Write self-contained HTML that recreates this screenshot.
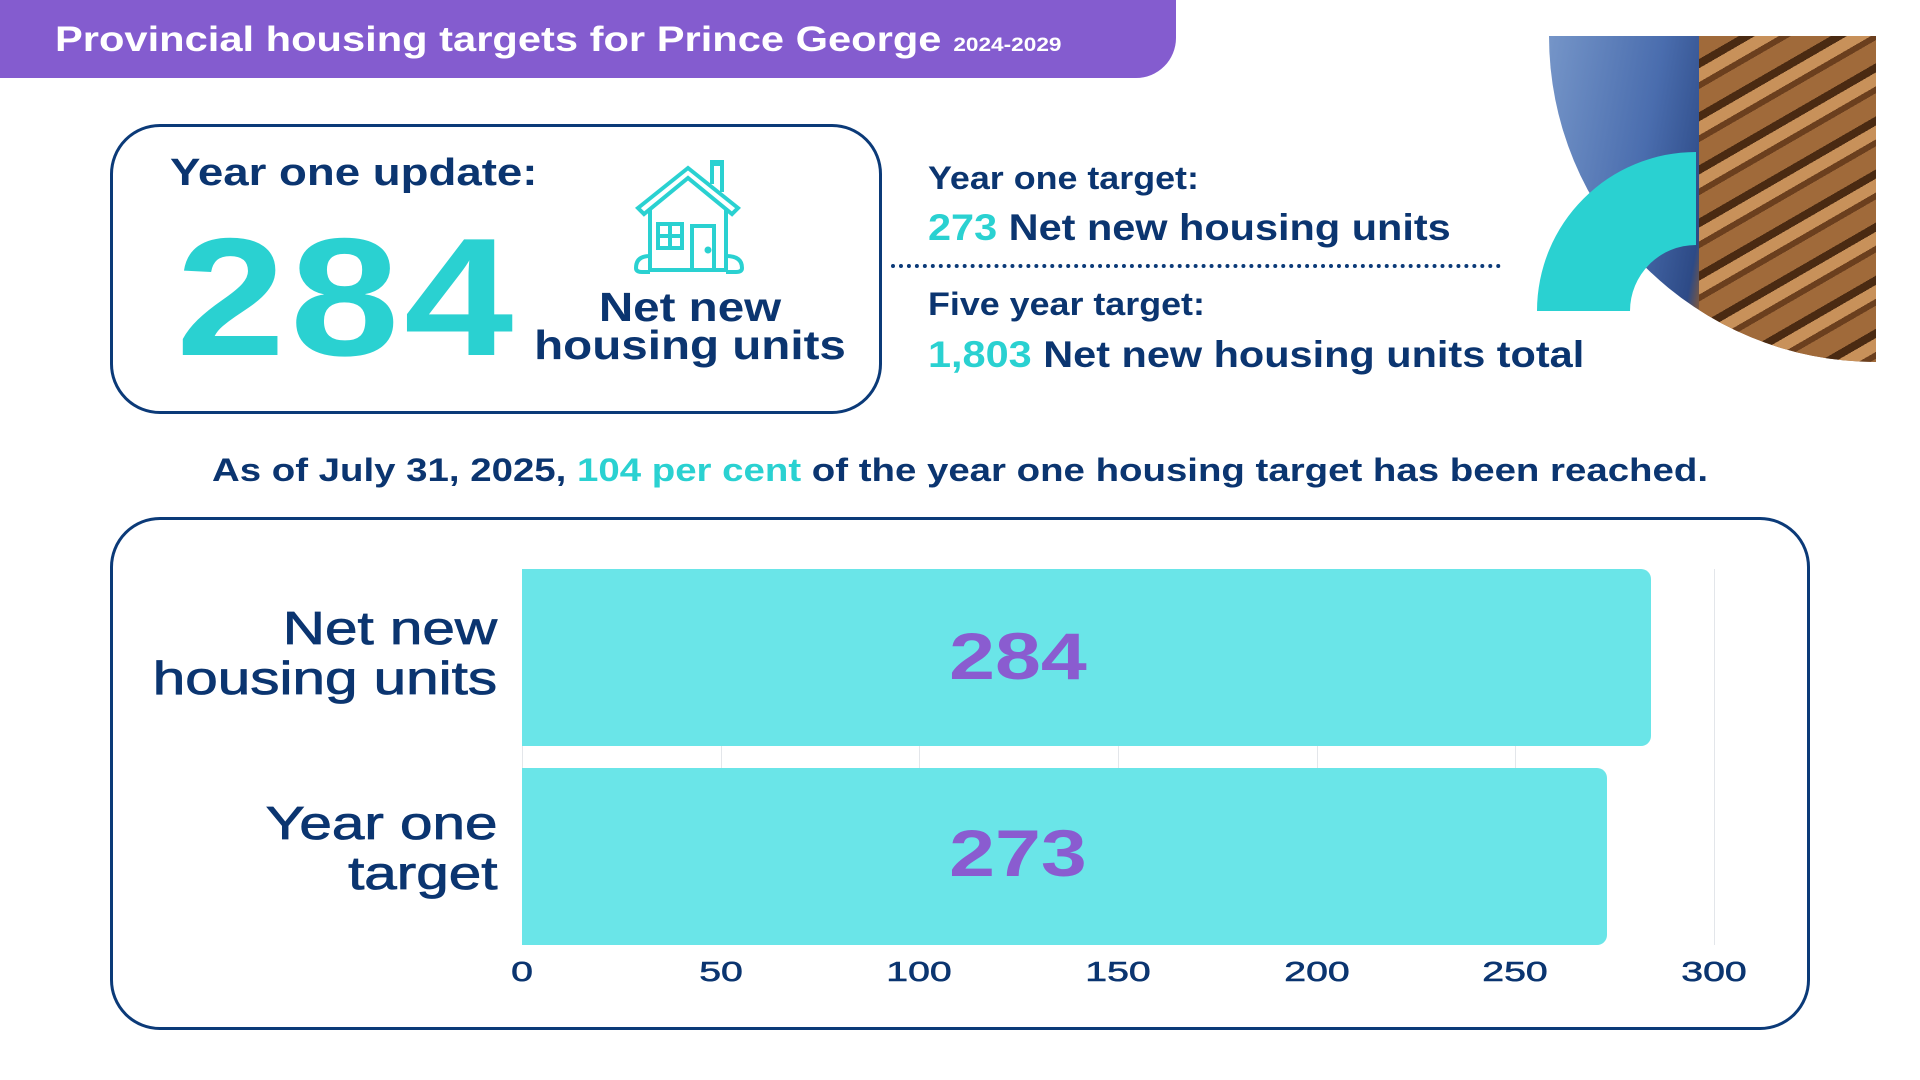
<!DOCTYPE html>
<html><head><meta charset="utf-8"><style>
*{margin:0;padding:0;box-sizing:border-box}
body{width:1920px;height:1080px;background:#fff;position:relative;overflow:hidden;font-family:"Liberation Sans",sans-serif;color:#0b3570}
.abs{position:absolute}
.banner{left:0;top:0;width:1176px;height:78px;background:#845ccf;border-bottom-right-radius:40px}
.title{left:55px;top:20px;color:#fff;font-weight:bold;font-size:35px;white-space:nowrap;transform:scaleX(1.19);transform-origin:left}
.title span{font-size:19px;margin-left:10px}
.box1{left:110px;top:124px;width:772px;height:290px;border:3px solid #0b3a78;border-radius:50px}
.teal{color:#2ad1d1}
.box2{left:110px;top:517px;width:1700px;height:513px;border:3px solid #0b3a78;border-radius:50px}
.bar{background:#6ae5e8;border-radius:0 10px 10px 0;left:522px}
.grid{width:1px;background:#e3e6ea;top:569px;height:376px}
.tick{top:956px;font-size:28px;width:100px;text-align:center;margin-left:-50px;transform:scaleX(1.4);-webkit-text-stroke:0.6px #0b3570}
.ylab{font-size:46px;text-align:right;right:1423px;line-height:50px;white-space:nowrap;transform:scaleX(1.27);transform-origin:right;-webkit-text-stroke:0.8px #0b3570}
.val{color:#8a5cd0;font-size:66px;font-weight:bold;width:200px;text-align:center;left:918px;transform:scaleX(1.25)}
.sx{transform-origin:left;white-space:nowrap}
</style></head><body>
<div class="abs banner"></div>
<div class="abs title">Provincial housing targets for Prince George<span>2024-2029</span></div>

<div class="abs box1"></div>
<div class="abs sx" style="left:170px;top:152px;font-size:38px;font-weight:bold;transform:scaleX(1.2)">Year one update:</div>
<div class="abs teal sx" style="left:176px;top:212px;font-size:168px;font-weight:bold;letter-spacing:4px;line-height:170px;transform:scaleX(1.17)">284</div>
<svg class="abs" style="left:628px;top:158px" width="124" height="118" viewBox="0 0 124 118" fill="none" stroke="#2ad1d1" stroke-width="4">
<path d="M10 50 L60 10 L110 50 L104 56 L60 20 L16 56 Z"/>
<path d="M22 50 V112 H98 V50"/>
<path d="M84 26 V6 H94 V34"/><path d="M82 4 H96"/>
<rect x="30" y="66" width="24" height="24"/><path d="M42 66V90M30 78H54"/>
<rect x="64" y="68" width="22" height="44"/><circle cx="80" cy="92" r="1.5" fill="#2ad1d1"/>
<path d="M22 98 Q8 98 8 110 Q8 114 14 114 H22"/><path d="M98 98 Q114 98 114 110 Q114 114 108 114 H98"/>
</svg>
<div class="abs" style="left:520px;top:288px;width:340px;text-align:center;font-size:41px;font-weight:bold;line-height:38px;transform:scaleX(1.16)">Net new<br>housing units</div>

<div class="abs sx" style="left:928px;top:160px;font-size:32px;font-weight:bold;transform:scaleX(1.12)">Year one target:</div>
<div class="abs sx" style="left:928px;top:207px;font-size:37px;font-weight:bold;transform:scaleX(1.12)"><span class="teal">273</span> Net new housing units</div>
<div class="abs" style="left:891px;top:264px;width:610px;border-top:4px dotted #0b3a78"></div>
<div class="abs sx" style="left:928px;top:286px;font-size:32px;font-weight:bold;transform:scaleX(1.12)">Five year target:</div>
<div class="abs sx" style="left:928px;top:334px;font-size:37px;font-weight:bold;transform:scaleX(1.12)"><span class="teal">1,803</span> Net new housing units total</div>

<div class="abs" style="left:1549px;top:36px;width:327px;height:326px;border-bottom-left-radius:100%;overflow:hidden;background:linear-gradient(100deg,#7595c8 0%,#4a6dae 30%,#2d4a86 48%,#8a5a32 52%)">
<div style="position:absolute;left:150px;top:0;width:177px;height:326px;background:repeating-linear-gradient(150deg,#a06a3a 0 20px,#4a2a12 20px 28px,#c8915a 28px 40px,#6b3f1e 40px 46px)"></div>
</div>
<svg class="abs" style="left:1536px;top:152px" width="162" height="160"><path d="M160 0 A159 159 0 0 0 1 159 L94 159 A66 66 0 0 1 160 93 Z" fill="#2ad1d1"/></svg>

<div class="abs" style="left:0;width:1920px;text-align:center;top:452px;font-size:32px;font-weight:bold;transform:scaleX(1.2)">As of July 31, 2025, <span class="teal">104 per cent</span> of the year one housing target has been reached.</div>

<div class="abs box2"></div>
<div class="abs grid" style="left:522px"></div>
<div class="abs grid" style="left:721px"></div>
<div class="abs grid" style="left:919px"></div>
<div class="abs grid" style="left:1118px"></div>
<div class="abs grid" style="left:1317px"></div>
<div class="abs grid" style="left:1515px"></div>
<div class="abs grid" style="left:1714px"></div>
<div class="abs bar" style="top:569px;height:177px;width:1129px"></div>
<div class="abs bar" style="top:768px;height:177px;width:1085px"></div>
<div class="abs val" style="top:618px">284</div>
<div class="abs val" style="top:815px">273</div>
<div class="abs ylab" style="top:603px">Net new<br>housing units</div>
<div class="abs ylab" style="top:798px">Year one<br>target</div>
<div class="abs tick" style="left:522px">0</div>
<div class="abs tick" style="left:721px">50</div>
<div class="abs tick" style="left:919px">100</div>
<div class="abs tick" style="left:1118px">150</div>
<div class="abs tick" style="left:1317px">200</div>
<div class="abs tick" style="left:1515px">250</div>
<div class="abs tick" style="left:1714px">300</div>
</body></html>
